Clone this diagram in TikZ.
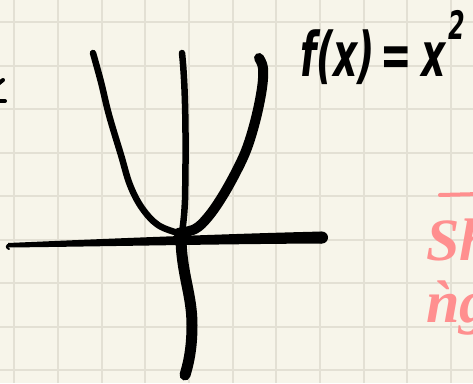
\documentclass[tikz,border=0pt]{standalone}
\usepackage{fontspec}
\usepackage{tikz}
\usetikzlibrary{positioning}
\newfontfamily\memofont{Liberation Serif}
\newfontfamily\handfont{DejaVu Sans Condensed}
\definecolor{paper}{HTML}{F7F5EA}
\definecolor{gridline}{HTML}{E3E0D4}
\definecolor{pinkink}{HTML}{FF8F8F}

\begin{document}
\begin{tikzpicture}[x=1pt, y=-1pt,
  pen/.style={draw=black, line width=#1, line cap=round, line join=round},
  sq/.style={gridline, line width=2pt},
  hand/.style={font=\fontsize{44}{44}\selectfont\handfont\bfseries\itshape, inner sep=0pt, anchor=base west},
  memo/.style={pinkink, font=\fontsize{60}{60}\selectfont\memofont\bfseries\itshape, inner sep=0pt, anchor=base west},
]
  \useasboundingbox (0,0) rectangle (473,383);
  \clip (0,0) rectangle (473,383);
  \fill[paper] (0,0) rectangle (473,383);
  \foreach \i in {0,...,10} \draw[sq] (14.3+43.65*\i,0) -- (14.3+43.65*\i,383);
  \foreach \j in {0,...,8} \draw[sq] (0,22+43.5*\j) -- (473,22+43.5*\j);

  \draw[pen=4pt] (-2,84) -- (3,80);
  \draw[pen=4pt] (-2,101) -- (5,101);

  \fill (8,243) .. controls (100,239) and (220,234) .. (322,231.5) -- (322,243.5) .. controls (220,244) and (100,246.5) .. (8,247.5) -- cycle;
  \fill (322,237.5) circle[radius=6];
  \draw[pen=2pt] (10,244) .. controls (6,245) and (6,248) .. (9,249);

  \draw[pen=6.5pt] (182,53) .. controls (186,90) and (186,150) .. (185,200) .. controls (184,225) and (181,235) .. (181,245);
  \draw[pen=11pt] (181,240) .. controls (182,275) and (192,295) .. (192,325) .. controls (192,350) and (188,365) .. (185,375);

  \draw[pen=6.5pt] plot[smooth, tension=0.6] coordinates {(93,53) (101,82) (109,115) (121,155) (130,185) (142,208) (158,225) (178,233)};
  \draw[pen=10pt] plot[smooth, tension=0.6] coordinates {(178,233) (195,229) (208,217) (222,197) (236,172) (247,148) (256,118) (262,88) (263,68) (259,58)};

  \node[hand] (fx) at (300,76) {\scalebox{0.95}[1.4]{f(x)\kern6pt=\kern10pt x\kern2pt\raisebox{0.6em}{\fontsize{28}{28}\selectfont 2}}};

  \draw[pinkink, line width=4pt, line cap=round] (440,195) -- (480,194);
  \node[memo] (sh) at (426,260) {Sh};
  \node[memo] (ng) at (426,322) {ǹg};
\end{tikzpicture}
\end{document}
